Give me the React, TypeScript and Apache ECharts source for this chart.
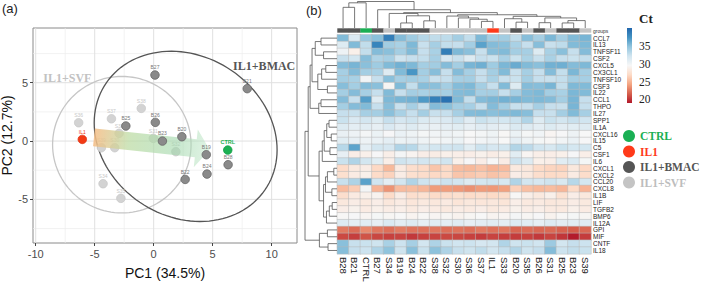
import React, { useEffect, useRef } from 'react';
import * as echarts from 'echarts';

const SANS = '"Liberation Sans", Arial, Helvetica, sans-serif';
const SERIF = '"Liberation Serif", "Times New Roman", serif';

// ---------- Panel (a): PCA ----------
const pcaXRange = [-10.23, 12.15];
const pcaYRange = [-8.74, 9.69];
const pcaXTicks = [-10, -5, 0, 5, 10];
const pcaXMinor = [-7.5, -2.5, 2.5, 7.5];
const pcaYTicks = [-5, 0, 5];
const pcaYMinor = [-7.5, -2.5, 2.5, 7.5];

const svfNames = ['S36', 'S37', 'S38', 'S33', 'S31', 'S32', 'S30', 'S39', 'S34', 'S35'];
const svfPC1 = [-6.36, -3.58, -1.05, -2.93, -0.03, 1.88, -3.3, -4.43, -4.29, -2.78];
const svfPC2 = [1.57, 1.91, 2.8, 0.66, 0.23, -0.91, -0.57, -0.57, -3.66, -4.91];

const bmacNames = ['B27', 'B21', 'B25', 'B26', 'B20', 'B23', 'B19', 'B28', 'B24', 'B22'];
const bmacPC1 = [0.11, 7.93, -2.36, 0.14, 2.39, 0.74, 4.46, 6.31, 4.52, 2.67];
const bmacPC2 = [5.66, 4.49, 1.29, 1.6, 0.37, 0.0, -1.17, -2.03, -2.83, -3.29];

const il1PC1 = [-6.05];
const il1PC2 = [0.14];
const ctrlPC1 = [6.28];
const ctrlPC2 = [-0.77];

const ellipseCx = [-2.7, 2.71];
const ellipseCy = [-0.31, 0.4];
const ellipseA = [5.87, 8.14];
const ellipseB = [5.85, 6.86];
const ellipseAngle = [0, -34.5];
const ellipseColors = ['#c6c6c6', '#555555'];

const arrowFrom = [-5.06, 0.31];
const arrowTo = [4.75, -0.75];

const annoText = ['IL1+BMAC', 'IL1+SVF'];
const annoX = [9.37, -7.32];
const annoY = [6.43, 5.4];
const annoColors = ['#555555', '#c2c2c2'];

// ---------- Panel (b): heatmap ----------
const genes = ['CCL7', 'IL13', 'TNFSF11', 'CSF2', 'CXCL5', 'CX3CL1', 'TNFSF10', 'CSF3', 'IL22', 'CCL1', 'THPO', 'IL27', 'SPP1', 'IL1A', 'CXCL16', 'IL15', 'C5', 'CSF1', 'IL6', 'CXCL1', 'CXCL2', 'CCL20', 'CXCL8', 'IL1B', 'LIF', 'TGFB2', 'BMP6', 'IL12A', 'GPI', 'MIF', 'CNTF', 'IL18'];
const samples = ['B28', 'B21', 'CTRL', 'B27', 'S34', 'B19', 'B24', 'B22', 'S38', 'S32', 'S30', 'S36', 'S37', 'IL1', 'S33', 'B20', 'S35', 'B26', 'S31', 'B25', 'B23', 'S39'];
const sampleGroups = ['BMAC', 'BMAC', 'CTRL', 'BMAC', 'SVF', 'BMAC', 'BMAC', 'BMAC', 'SVF', 'SVF', 'SVF', 'SVF', 'SVF', 'IL1', 'SVF', 'BMAC', 'SVF', 'BMAC', 'SVF', 'BMAC', 'BMAC', 'SVF'];

const ctByGene = [
  [35.3, 31.5, 34.5, 35.0, 38.6, 35.2, 34.2, 33.3, 32.8, 32.9, 34.0, 32.7, 35.4, 34.0, 34.1, 32.8, 35.1, 33.9, 35.5, 34.0, 35.3, 35.6],
  [31.3, 35.3, 32.8, 38.2, 34.1, 33.8, 35.4, 32.5, 33.9, 32.7, 32.6, 34.0, 36.6, 35.2, 35.0, 33.8, 32.6, 35.1, 32.5, 32.9, 35.3, 35.4],
  [30.2, 28.8, 32.7, 35.2, 35.0, 34.0, 35.3, 32.6, 33.8, 38.6, 35.4, 35.0, 32.5, 35.1, 35.3, 34.0, 33.9, 31.3, 33.8, 35.0, 32.6, 35.2],
  [32.5, 32.0, 35.1, 33.6, 33.9, 32.2, 32.6, 32.7, 33.9, 31.8, 32.5, 31.3, 32.6, 32.4, 33.8, 32.4, 33.7, 32.5, 33.8, 32.6, 32.4, 32.7],
  [35.2, 35.6, 35.0, 34.2, 35.3, 35.8, 35.4, 34.0, 34.1, 35.2, 34.0, 35.6, 35.9, 34.2, 35.5, 36.1, 35.3, 35.0, 35.8, 35.9, 35.2, 35.4],
  [33.9, 35.2, 34.0, 33.8, 31.2, 35.3, 37.2, 34.0, 35.1, 32.6, 35.2, 33.9, 32.6, 34.0, 35.3, 32.5, 33.9, 32.6, 35.2, 32.7, 35.5, 34.0],
  [34.0, 33.8, 29.9, 32.6, 35.0, 33.9, 34.1, 33.8, 32.5, 32.6, 33.9, 34.0, 32.6, 33.8, 32.5, 32.4, 34.0, 32.6, 32.5, 32.7, 34.0, 33.9],
  [35.1, 34.0, 35.2, 35.0, 29.3, 35.3, 32.7, 35.1, 35.0, 34.0, 35.2, 35.4, 34.0, 32.6, 35.3, 31.3, 35.2, 35.1, 35.6, 32.7, 35.4, 35.3],
  [34.0, 35.2, 33.9, 32.6, 35.3, 32.6, 34.0, 33.8, 34.0, 33.9, 35.2, 35.3, 33.9, 34.0, 32.6, 33.9, 35.2, 35.4, 34.0, 33.8, 35.5, 35.3],
  [35.2, 32.6, 36.8, 31.2, 35.4, 35.6, 35.8, 37.0, 38.5, 39.3, 35.3, 32.7, 35.2, 35.5, 35.8, 35.6, 35.3, 35.4, 35.2, 34.0, 35.6, 32.6],
  [34.0, 35.2, 35.3, 32.6, 35.1, 32.5, 33.9, 32.6, 35.2, 35.0, 34.0, 33.9, 32.6, 35.2, 34.0, 32.5, 32.6, 33.9, 32.6, 32.5, 35.6, 32.6],
  [32.6, 32.5, 33.9, 34.0, 35.0, 33.8, 32.6, 34.0, 32.5, 32.6, 33.9, 35.2, 35.3, 35.0, 35.2, 35.4, 35.1, 32.6, 32.5, 34.0, 35.3, 33.9],
  [32.4, 31.5, 32.0, 31.3, 32.6, 31.8, 32.2, 31.4, 31.2, 31.5, 32.3, 31.1, 32.4, 32.0, 31.9, 32.3, 33.5, 31.2, 32.4, 32.0, 32.5, 32.1],
  [31.3, 30.8, 31.0, 30.6, 31.5, 30.9, 31.2, 30.7, 30.5, 30.8, 31.0, 30.6, 31.1, 30.9, 30.7, 31.4, 31.2, 30.8, 31.3, 30.9, 31.0, 31.2],
  [30.5, 30.2, 29.8, 30.3, 29.6, 30.4, 30.1, 29.7, 29.9, 30.2, 30.0, 29.5, 29.8, 30.1, 29.4, 30.3, 29.7, 30.0, 29.2, 29.6, 30.2, 29.5],
  [31.0, 30.6, 30.2, 30.4, 30.8, 30.3, 30.5, 30.1, 29.8, 30.0, 30.3, 29.6, 29.9, 30.2, 29.5, 30.8, 30.1, 29.7, 29.4, 29.9, 30.4, 29.6],
  [33.2, 36.5, 30.8, 32.0, 31.8, 33.5, 33.2, 31.6, 32.0, 32.1, 32.2, 31.0, 32.3, 31.8, 32.0, 33.4, 33.0, 32.1, 31.7, 32.4, 31.9, 32.0],
  [30.6, 28.6, 28.8, 29.6, 28.7, 29.8, 29.1, 28.6, 28.5, 28.8, 28.7, 28.6, 28.9, 28.5, 28.8, 31.0, 29.2, 28.7, 28.6, 28.8, 29.6, 28.7],
  [32.4, 33.5, 32.0, 31.0, 28.7, 32.2, 31.8, 32.0, 31.6, 32.1, 28.8, 29.6, 28.6, 29.5, 28.5, 32.3, 31.2, 28.8, 28.7, 31.0, 31.4, 29.7],
  [27.0, 28.2, 28.5, 26.8, 25.2, 28.3, 27.2, 26.9, 25.8, 26.8, 25.4, 25.2, 25.6, 25.0, 25.3, 28.2, 28.0, 26.9, 26.6, 26.5, 28.1, 26.8],
  [27.3, 28.4, 28.8, 27.0, 26.5, 28.5, 27.3, 27.1, 26.8, 27.0, 25.8, 25.9, 26.2, 25.7, 26.0, 28.6, 28.2, 27.2, 26.9, 27.0, 28.4, 27.1],
  [32.5, 33.6, 36.6, 32.1, 30.8, 32.0, 33.5, 32.2, 31.8, 32.3, 32.0, 31.2, 31.9, 32.1, 31.7, 33.5, 32.0, 31.8, 32.2, 31.6, 33.2, 31.9],
  [25.3, 26.2, 29.8, 25.0, 23.6, 25.3, 25.4, 25.1, 23.9, 24.0, 23.8, 23.5, 23.9, 23.8, 24.1, 26.4, 25.5, 25.2, 25.4, 25.1, 26.9, 25.0],
  [27.2, 28.3, 28.8, 29.0, 27.0, 28.5, 27.2, 27.4, 27.0, 27.1, 27.3, 27.0, 27.2, 26.9, 27.1, 29.4, 28.7, 28.2, 28.8, 27.4, 28.6, 28.1],
  [28.1, 28.5, 28.2, 28.6, 28.0, 28.4, 27.9, 28.2, 28.0, 28.3, 27.8, 28.1, 27.9, 28.0, 27.8, 28.7, 28.2, 28.3, 28.0, 28.1, 28.5, 28.2],
  [28.6, 28.9, 28.4, 28.8, 28.5, 28.7, 28.3, 28.6, 28.4, 28.2, 28.5, 28.3, 28.6, 28.2, 28.4, 28.9, 28.5, 28.7, 28.3, 28.2, 28.8, 28.4],
  [29.4, 29.6, 29.2, 29.7, 29.3, 29.5, 29.1, 29.4, 29.2, 29.3, 29.0, 29.3, 29.5, 29.1, 29.2, 29.8, 29.3, 29.6, 29.0, 29.4, 29.7, 29.3],
  [31.2, 30.8, 31.0, 30.6, 31.4, 30.9, 31.2, 30.7, 31.0, 30.8, 31.1, 30.6, 30.9, 31.0, 30.8, 31.3, 31.0, 30.7, 31.2, 30.9, 31.0, 31.1],
  [22.6, 22.1, 23.2, 22.5, 22.2, 22.7, 22.4, 22.3, 22.5, 22.2, 22.4, 22.2, 22.6, 22.3, 22.5, 21.8, 22.1, 21.9, 22.0, 21.7, 21.5, 21.9],
  [20.8, 20.4, 21.2, 20.7, 20.5, 20.6, 20.2, 20.5, 20.6, 20.8, 20.7, 20.5, 20.3, 20.6, 20.4, 20.3, 20.5, 20.2, 20.6, 20.1, 19.1, 20.3],
  [35.0, 32.5, 32.4, 32.2, 33.8, 32.3, 33.9, 32.0, 33.6, 32.4, 32.1, 32.3, 31.8, 32.0, 33.5, 32.2, 32.4, 32.1, 34.3, 32.0, 32.6, 32.3],
  [35.1, 32.6, 32.3, 33.5, 34.8, 32.2, 35.0, 32.4, 34.9, 33.6, 32.5, 32.2, 32.8, 32.0, 32.6, 33.4, 32.2, 32.6, 35.2, 32.3, 32.7, 32.4],
];

const ctMin = 19;
const ctMax = 40;
const ctTicks = [20, 25, 30, 35];
const ctColors = ['#b2182b', '#d6604d', '#f4a582', '#fddbc7', '#f7f7f7', '#d1e5f0', '#92c5de', '#4393c3', '#2166ac'];

const groupColors: Record<string, string> = { CTRL: '#1aaf54', IL1: '#ff3a1a', BMAC: '#555555', SVF: '#c4c4c4' };

// dendrograms: [left, right, mergeHeight]; leaves are positions
type DNode = number | [DNode, DNode, number];
const colTree: DNode = [
  [[0, 1, 0.78], 2, 0.95],
  [3, [
    [4, [[5, 6, 0.19], [7, 8, 0.27], 0.46], 0.55],
    [[9, [10, [11, [12, 13, 0.25], 0.33], 0.38], 0.45],
     [[14, [15, 16, 0.22], 0.35], [[17, 18, 0.2], [[19, 20, 0.19], 21, 0.28], 0.38], 0.44], 0.5],
    0.58], 0.69],
  1.0,
];
const rowTree: DNode = [
  [
    [[[[0, 1, 0.5], [2, 3, 0.42], 0.68], [[[4, 5, 0.35], 6, 0.48], [7, 8, 0.3], 0.6], 0.78], [[9, 10, 0.5], 11, 0.57], 0.84],
    [
      [[[[12, 13, 0.25], [14, 15, 0.18], 0.32], [16, 17, 0.22], 0.4], 18, 0.46],
      [[[[19, 20, 0.1], 21, 0.3], [22, 23, 0.16], 0.36], [[[24, 25, 0.15], 26, 0.24], 27, 0.33], 0.42],
      0.56,
    ],
    0.9,
  ],
  [[28, 29, 0.3], [30, 31, 0.28], 0.55],
  1.0,
];

function dendroSegments(tree: DNode): number[][] {
  const segs: number[][] = [];
  const walk = (n: DNode): [number, number] => {
    if (typeof n === 'number') return [n, 0];
    const l = walk(n[0]);
    const r = walk(n[1]);
    const h = n[2];
    segs.push([l[0], l[1], l[0], h]);
    segs.push([l[0], h, r[0], h]);
    segs.push([r[0], r[1], r[0], h]);
    return [(l[0] + r[0]) / 2, h];
  };
  walk(tree);
  return segs;
}

export default function App() {
  const ref = useRef<HTMLDivElement>(null);
  useEffect(() => {
    if (!ref.current) return;
    const chart = echarts.init(ref.current, undefined, { renderer: 'svg' });

    const heatData: number[][] = [];
    ctByGene.forEach((row, r) => row.forEach((v, c) => heatData.push([c, r, v])));

    const colSegs = dendroSegments(colTree);
    const rowSegs = dendroSegments(rowTree);

    // grid lines: [orientation(0 vertical / 1 horizontal), value, major(1)/minor(0)]
    const gridLines: number[][] = [
      ...pcaXMinor.map((v) => [0, v, 0]),
      ...pcaYMinor.map((v) => [1, v, 0]),
      ...pcaXTicks.map((v) => [0, v, 1]),
      ...pcaYTicks.map((v) => [1, v, 1]),
    ];

    const scatterBase = (name: string, xs: number[], ys: number[], labels: string[], color: string, border: string, labelColor: string, z: number, bold = false) => ({
      type: 'scatter',
      name,
      xAxisIndex: 0,
      yAxisIndex: 0,
      z,
      symbolSize: 8.5,
      data: xs.map((x, i) => [x, ys[i], labels[i]]),
      itemStyle: { color, borderColor: border, borderWidth: 0.8, opacity: 1 },
      label: {
        show: true,
        position: 'top',
        distance: 0.5,
        fontSize: bold ? 5.5 : 5,
        fontWeight: bold ? 'bold' : 'normal',
        color: labelColor,
        fontFamily: SANS,
        formatter: (p: any) => p.data[2],
      },
      emphasis: { disabled: true },
    });

    const option: any = {
      animation: false,
      backgroundColor: '#ffffff',
      textStyle: { fontFamily: SANS },
      grid: [
        { left: 33, top: 28, width: 264, height: 215, show: true, borderColor: '#8a8a8a', borderWidth: 1, backgroundColor: 'transparent', outerBoundsMode: 'none' },
        { left: 337.3, top: 34.7, width: 253.7, height: 219.2, outerBoundsMode: 'none' },
        { left: 337.3, top: 28.3, width: 253.7, height: 4.4, outerBoundsMode: 'none' },
        { left: 337.3, top: 1.5, width: 253.7, height: 26.5, outerBoundsMode: 'none' },
        { left: 305, top: 34.7, width: 32, height: 219.2, outerBoundsMode: 'none' },
        { left: 627, top: 28, width: 5, height: 75, outerBoundsMode: 'none' },
      ],
      xAxis: [
        {
          gridIndex: 0, type: 'value', min: pcaXRange[0], max: pcaXRange[1],
          name: 'PC1 (34.5%)', nameLocation: 'middle', nameGap: 23,
          nameTextStyle: { fontSize: 14, color: '#111', fontFamily: SANS },
          axisLine: { show: false, onZero: false },
          axisTick: { show: true, length: 3, lineStyle: { color: '#444' }, customValues: pcaXTicks },
          axisLabel: { fontSize: 11, color: '#4d4d4d', margin: 5, customValues: pcaXTicks, fontFamily: SANS },
          splitLine: { show: false },
        },
        { gridIndex: 0, type: 'value', min: pcaXRange[0], max: pcaXRange[1], show: false },
        {
          gridIndex: 1, type: 'category', data: samples, position: 'bottom',
          axisLine: { show: false }, axisTick: { show: false },
          axisLabel: { interval: 0, rotate: -90, fontSize: 9.5, color: '#222', margin: 3, fontFamily: SANS },
        },
        { gridIndex: 2, type: 'category', data: samples, show: false },
        { gridIndex: 3, type: 'value', min: -0.5, max: 21.5, show: false },
        { gridIndex: 4, type: 'value', min: 0, max: 1, inverse: true, show: false },
        { gridIndex: 5, type: 'value', min: 0, max: 1, show: false },
      ],
      yAxis: [
        {
          gridIndex: 0, type: 'value', min: pcaYRange[0], max: pcaYRange[1],
          name: 'PC2 (12.7%)', nameLocation: 'middle', nameGap: 17,
          nameTextStyle: { fontSize: 14, color: '#111', fontFamily: SANS },
          axisLine: { show: false, onZero: false },
          axisTick: { show: true, length: 3, lineStyle: { color: '#444' }, customValues: pcaYTicks },
          axisLabel: { fontSize: 11, color: '#4d4d4d', margin: 5, customValues: pcaYTicks, fontFamily: SANS },
          splitLine: { show: false },
        },
        { gridIndex: 0, type: 'value', min: pcaYRange[0], max: pcaYRange[1], show: false },
        {
          gridIndex: 1, type: 'category', data: genes, inverse: true, position: 'right',
          axisLine: { show: false }, axisTick: { show: false },
          axisLabel: { interval: 0, fontSize: 6.5, color: '#222', margin: 2, fontFamily: SANS },
        },
        {
          gridIndex: 2, type: 'category', data: ['groups'], position: 'right',
          axisLine: { show: false }, axisTick: { show: false },
          axisLabel: { fontSize: 5, color: '#333', margin: 2, fontFamily: SANS },
        },
        { gridIndex: 3, type: 'value', min: 0, max: 1, show: false },
        { gridIndex: 4, type: 'value', min: -0.5, max: 31.5, inverse: true, show: false },
        {
          gridIndex: 5, type: 'value', min: ctMin, max: ctMax, position: 'right',
          axisLine: { show: false }, axisTick: { show: false }, splitLine: { show: false },
          axisLabel: { customValues: ctTicks, fontSize: 11.5, color: '#222', margin: 7, fontFamily: SERIF },
        },
      ],
      visualMap: {
        show: false, type: 'continuous', min: ctMin, max: ctMax, seriesIndex: 8, dimension: 2,
        inRange: { color: ctColors },
      },
      legend: {
        orient: 'vertical', left: 623, top: 130, padding: 0, itemGap: 3.5,
        itemWidth: 12, itemHeight: 12, icon: 'circle', selectedMode: false,
        textStyle: { fontFamily: SERIF, fontWeight: 'bold', fontSize: 11.5 },
        data: [
          { name: 'CTRL', itemStyle: { color: groupColors.CTRL, borderWidth: 0 }, textStyle: { color: groupColors.CTRL } },
          { name: 'IL1', itemStyle: { color: groupColors.IL1, borderWidth: 0 }, textStyle: { color: groupColors.IL1 } },
          { name: 'IL1+BMAC', itemStyle: { color: groupColors.BMAC, borderWidth: 0 }, textStyle: { color: '#555555' } },
          { name: 'IL1+SVF', itemStyle: { color: groupColors.SVF, borderWidth: 0 }, textStyle: { color: '#bdbdbd' } },
        ],
      },
      graphic: [
        { type: 'text', left: 2, top: 2, style: { text: '(a)', fontSize: 13, fill: '#222', fontFamily: SANS } },
        { type: 'text', left: 306, top: 4, style: { text: '(b)', fontSize: 13, fill: '#222', fontFamily: SANS } },
        { type: 'text', left: 639, top: 12, style: { text: 'Ct', fontSize: 13, fontWeight: 'bold', fill: '#222', fontFamily: SERIF } },
      ],
      series: [
        {
          type: 'custom', xAxisIndex: 0, yAxisIndex: 0, z: 0, silent: true,
          data: gridLines,
          renderItem: (params: any, api: any) => {
            const o = api.value(0), v = api.value(1), major = api.value(2);
            const a = o === 0 ? api.coord([v, pcaYRange[0]]) : api.coord([pcaXRange[0], v]);
            const b = o === 0 ? api.coord([v, pcaYRange[1]]) : api.coord([pcaXRange[1], v]);
            return {
              type: 'line', shape: { x1: a[0], y1: a[1], x2: b[0], y2: b[1] },
              style: { stroke: major ? '#e0e0e0' : '#ececec', lineWidth: major ? 1 : 0.7 },
            };
          },
        },
        scatterBase('IL1+SVF', svfPC1, svfPC2, svfNames, '#d3d3d3', '#c8c8c8', '#c8c8c8', 3),
        scatterBase('IL1+BMAC', bmacPC1, bmacPC2, bmacNames, '#8a8a8a', '#666666', '#777777', 5),
        scatterBase('IL1', il1PC1, il1PC2, ['IL1'], '#f23a14', '#e03010', '#f23a14', 6),
        scatterBase('CTRL', ctrlPC1, ctrlPC2, ['CTRL'], '#1cb052', '#14a048', '#1cb052', 6, true),
        {
          type: 'custom', xAxisIndex: 0, yAxisIndex: 0, z: 2, silent: true,
          data: ellipseCx.map((x, i) => [x, ellipseCy[i]]),
          renderItem: (params: any, api: any) => {
            const i = params.dataIndex;
            const th = (ellipseAngle[i] * Math.PI) / 180;
            const pts: number[][] = [];
            for (let k = 0; k <= 120; k++) {
              const t = (k / 120) * Math.PI * 2;
              const dx = ellipseA[i] * Math.cos(t);
              const dy = ellipseB[i] * Math.sin(t);
              pts.push(api.coord([ellipseCx[i] + dx * Math.cos(th) - dy * Math.sin(th), ellipseCy[i] + dx * Math.sin(th) + dy * Math.cos(th)]));
            }
            return { type: 'polyline', shape: { points: pts }, style: { stroke: ellipseColors[i], lineWidth: 1.3, fill: 'none' } };
          },
        },
        {
          type: 'custom', xAxisIndex: 0, yAxisIndex: 0, z: 4, silent: true,
          data: [[arrowFrom[0], arrowFrom[1], arrowTo[0], arrowTo[1]]],
          renderItem: (params: any, api: any) => {
            const p0 = api.coord([api.value(0), api.value(1)]);
            const p1 = api.coord([api.value(2), api.value(3)]);
            const len = Math.hypot(p1[0] - p0[0], p1[1] - p0[1]);
            const d = [(p1[0] - p0[0]) / len, (p1[1] - p0[1]) / len];
            const n = [-d[1], d[0]];
            const bw = 9, hw = 19, hl = 14;
            const b = [p1[0] - d[0] * hl, p1[1] - d[1] * hl];
            const pts = [
              [p0[0] + n[0] * bw, p0[1] + n[1] * bw],
              [b[0] + n[0] * bw, b[1] + n[1] * bw],
              [b[0] + n[0] * hw, b[1] + n[1] * hw],
              p1,
              [b[0] - n[0] * hw, b[1] - n[1] * hw],
              [b[0] - n[0] * bw, b[1] - n[1] * bw],
              [p0[0] - n[0] * bw, p0[1] - n[1] * bw],
            ];
            return {
              type: 'polygon', shape: { points: pts },
              style: {
                fill: {
                  type: 'linear', x: p0[0], y: p0[1], x2: p1[0], y2: p1[1], global: true,
                  colorStops: [
                    { offset: 0, color: 'rgba(246,190,135,0.85)' },
                    { offset: 0.3, color: 'rgba(190,220,165,0.75)' },
                    { offset: 0.7, color: 'rgba(160,215,170,0.6)' },
                    { offset: 1, color: 'rgba(185,228,195,0.45)' },
                  ],
                },
              },
            };
          },
        },
        {
          type: 'custom', xAxisIndex: 0, yAxisIndex: 0, z: 6, silent: true,
          data: annoX.map((x, i) => [x, annoY[i]]),
          renderItem: (params: any, api: any) => {
            const i = params.dataIndex;
            const p = api.coord([api.value(0), api.value(1)]);
            return {
              type: 'text', x: p[0], y: p[1],
              style: { text: annoText[i], fill: annoColors[i], fontSize: 12, fontWeight: 'bold', fontFamily: SERIF, align: 'center', verticalAlign: 'middle' },
            };
          },
        },
        {
          type: 'heatmap', xAxisIndex: 2, yAxisIndex: 2, data: heatData, progressive: 0,
          itemStyle: { borderColor: '#b9b9b9', borderWidth: 0.5 },
          emphasis: { disabled: true },
        },
        {
          type: 'custom', xAxisIndex: 3, yAxisIndex: 3, silent: true,
          data: samples.map((s, i) => [i, 0]),
          renderItem: (params: any, api: any) => {
            const i = params.dataIndex;
            const p = api.coord([api.value(0), 0]);
            const s = api.size([1, 1]);
            return {
              type: 'rect',
              shape: { x: p[0] - s[0] / 2, y: p[1] - s[1] / 2, width: s[0] + 0.3, height: s[1] },
              style: { fill: groupColors[sampleGroups[i]] },
            };
          },
        },
        {
          type: 'custom', xAxisIndex: 4, yAxisIndex: 4, silent: true, clip: false,
          data: colSegs,
          renderItem: (params: any, api: any) => {
            const a = api.coord([api.value(0), api.value(1)]);
            const b = api.coord([api.value(2), api.value(3)]);
            return { type: 'line', shape: { x1: a[0], y1: a[1], x2: b[0], y2: b[1] }, style: { stroke: '#555', lineWidth: 0.8 } };
          },
        },
        {
          type: 'custom', xAxisIndex: 5, yAxisIndex: 5, silent: true, clip: false,
          data: rowSegs,
          renderItem: (params: any, api: any) => {
            const a = api.coord([api.value(1), api.value(0)]);
            const b = api.coord([api.value(3), api.value(2)]);
            return { type: 'line', shape: { x1: a[0], y1: a[1], x2: b[0], y2: b[1] }, style: { stroke: '#555', lineWidth: 0.8 } };
          },
        },
        {
          type: 'custom', xAxisIndex: 6, yAxisIndex: 6, silent: true,
          data: [[0, ctMax]],
          renderItem: (params: any, api: any) => {
            const t = api.coord([0, ctMax]);
            const b = api.coord([1, ctMin]);
            const stops = ctColors.slice().reverse().map((c, i, arr) => ({ offset: i / (arr.length - 1), color: c }));
            return {
              type: 'rect',
              shape: { x: t[0], y: t[1], width: b[0] - t[0], height: b[1] - t[1] },
              style: { fill: { type: 'linear', x: 0, y: 0, x2: 0, y2: 1, colorStops: stops } },
            };
          },
        },
      ],
    };

    chart.setOption(option);
    return () => chart.dispose();
  }, []);

  return <div ref={ref} style={{ position: 'absolute', left: 0, top: 0, width: 702, height: 283 }} />;
}
